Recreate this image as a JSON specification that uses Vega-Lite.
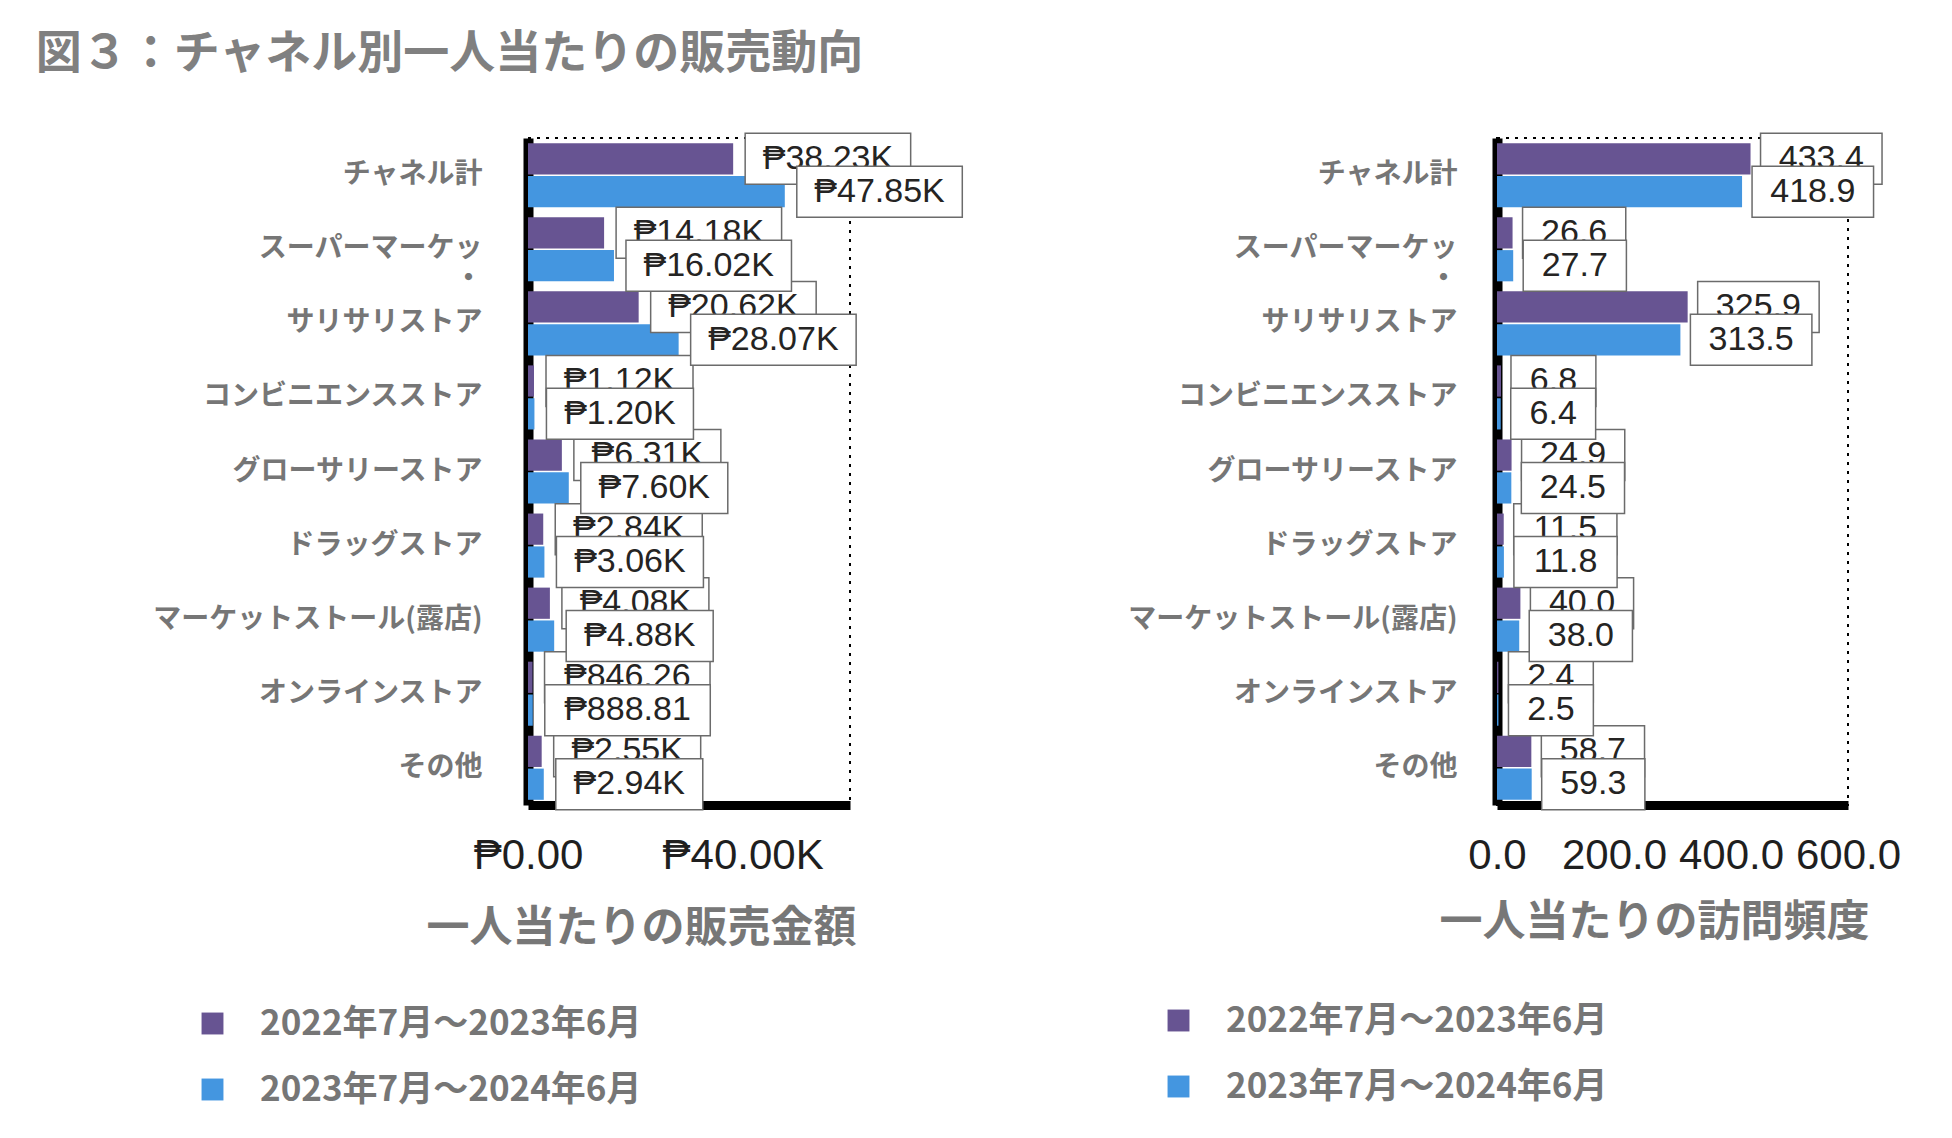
{
  "$schema": "https://vega.github.io/schema/vega-lite/v6.json",
  "background": "white",
  "padding": {"left": 35, "top": 30, "right": 0, "bottom": 0},
  "title": {
    "text": "図３：チャネル別一人当たりの販売動向",
    "anchor": "start",
    "frame": "bounds",
    "dx": -116,
    "offset": 54,
    "font": "Noto Sans CJK JP",
    "fontWeight": "bold",
    "fontSize": 46,
    "color": "#808080"
  },
  "datasets": {
    "sales": [
      {"ch": "チャネル計", "s": "2022年7月～2023年6月", "v": 38230},
      {"ch": "チャネル計", "s": "2023年7月～2024年6月", "v": 47850},
      {"ch": "スーパーマーケット", "s": "2022年7月～2023年6月", "v": 14180},
      {"ch": "スーパーマーケット", "s": "2023年7月～2024年6月", "v": 16020},
      {"ch": "サリサリストア", "s": "2022年7月～2023年6月", "v": 20620},
      {"ch": "サリサリストア", "s": "2023年7月～2024年6月", "v": 28070},
      {"ch": "コンビニエンスストア", "s": "2022年7月～2023年6月", "v": 1120},
      {"ch": "コンビニエンスストア", "s": "2023年7月～2024年6月", "v": 1200},
      {"ch": "グローサリーストア", "s": "2022年7月～2023年6月", "v": 6310},
      {"ch": "グローサリーストア", "s": "2023年7月～2024年6月", "v": 7600},
      {"ch": "ドラッグストア", "s": "2022年7月～2023年6月", "v": 2840},
      {"ch": "ドラッグストア", "s": "2023年7月～2024年6月", "v": 3060},
      {"ch": "マーケットストール(露店)", "s": "2022年7月～2023年6月", "v": 4080},
      {"ch": "マーケットストール(露店)", "s": "2023年7月～2024年6月", "v": 4880},
      {"ch": "オンラインストア", "s": "2022年7月～2023年6月", "v": 846.26},
      {"ch": "オンラインストア", "s": "2023年7月～2024年6月", "v": 888.81},
      {"ch": "その他", "s": "2022年7月～2023年6月", "v": 2550},
      {"ch": "その他", "s": "2023年7月～2024年6月", "v": 2940}
    ],
    "visits": [
      {"ch": "チャネル計", "s": "2022年7月～2023年6月", "v": 433.4},
      {"ch": "チャネル計", "s": "2023年7月～2024年6月", "v": 418.9},
      {"ch": "スーパーマーケット", "s": "2022年7月～2023年6月", "v": 26.6},
      {"ch": "スーパーマーケット", "s": "2023年7月～2024年6月", "v": 27.7},
      {"ch": "サリサリストア", "s": "2022年7月～2023年6月", "v": 325.9},
      {"ch": "サリサリストア", "s": "2023年7月～2024年6月", "v": 313.5},
      {"ch": "コンビニエンスストア", "s": "2022年7月～2023年6月", "v": 6.8},
      {"ch": "コンビニエンスストア", "s": "2023年7月～2024年6月", "v": 6.4},
      {"ch": "グローサリーストア", "s": "2022年7月～2023年6月", "v": 24.9},
      {"ch": "グローサリーストア", "s": "2023年7月～2024年6月", "v": 24.5},
      {"ch": "ドラッグストア", "s": "2022年7月～2023年6月", "v": 11.5},
      {"ch": "ドラッグストア", "s": "2023年7月～2024年6月", "v": 11.8},
      {"ch": "マーケットストール(露店)", "s": "2022年7月～2023年6月", "v": 40.0},
      {"ch": "マーケットストール(露店)", "s": "2023年7月～2024年6月", "v": 38.0},
      {"ch": "オンラインストア", "s": "2022年7月～2023年6月", "v": 2.4},
      {"ch": "オンラインストア", "s": "2023年7月～2024年6月", "v": 2.5},
      {"ch": "その他", "s": "2022年7月～2023年6月", "v": 58.7},
      {"ch": "その他", "s": "2023年7月～2024年6月", "v": 59.3}
    ]
  },
  "hconcat": [
    {
      "width": 322,
      "height": 667,
      "data": {"name": "sales"},
      "transform": [
        {"calculate": "datum.v >= 1000 ? '₱' + format(datum.v / 1000, '.2f') + 'K' : '₱' + format(datum.v, '.2f')", "as": "label"}
      ],
      "encoding": {
        "y": {
          "field": "ch",
          "type": "nominal",
          "sort": ["チャネル計", "スーパーマーケット", "サリサリストア", "コンビニエンスストア", "グローサリーストア", "ドラッグストア", "マーケットストール(露店)", "オンラインストア", "その他"],
          "scale": {"paddingInner": 0.135, "paddingOuter": 0.07},
          "axis": {
            "labelPadding": 46,
            "labelExpr": "datum.value == 'スーパーマーケット' ? ['スーパーマーケッ\u2002', '・\u2002'] : datum.value == 'チャネル計' ? 'チャネル計\u2002' : datum.value"
          }
        },
        "yOffset": {
          "field": "s",
          "type": "nominal",
          "sort": ["2022年7月～2023年6月", "2023年7月～2024年6月"],
          "scale": {"paddingInner": 0.05}
        }
      },
      "layer": [
        {
          "mark": {"type": "bar"},
          "encoding": {
            "x": {
              "field": "v",
              "type": "quantitative",
              "scale": {"domain": [0, 60000], "nice": false},
              "axis": {
                "values": [0, 40000],
                "labelExpr": "datum.value == 0 ? '₱0.00' : '₱' + format(datum.value / 1000, '.2f') + 'K'",
                "title": "一人当たりの販売金額",
                "titleX": 113,
                "titleY": 123
              }
            },
            "color": {
              "field": "s",
              "type": "nominal",
              "scale": {"domain": ["2022年7月～2023年6月", "2023年7月～2024年6月"], "range": ["#675492", "#4496e0"]},
              "legend": {"legendX": -333, "legendY": 868}
            }
          }
        },
        {
          "transform": [{"filter": "datum.s == '2022年7月～2023年6月'"}],
          "mark": {"type": "bar", "height": 51, "fill": "white", "stroke": "#6b6b6b", "strokeWidth": 1.5, "xOffset": 12, "x2Offset": {"expr": "48 + 18.5 * length(datum.label)"}},
          "encoding": {"x": {"field": "v", "type": "quantitative"}, "x2": {"field": "v"}}
        },
        {
          "transform": [{"filter": "datum.s == '2022年7月～2023年6月'"}],
          "mark": {"type": "text", "align": "center", "baseline": "middle", "font": "Liberation Sans", "fontSize": 34, "fill": "#252423", "xOffset": {"expr": "30 + 9.25 * length(datum.label)"}},
          "encoding": {"x": {"field": "v", "type": "quantitative"}, "text": {"field": "label"}}
        },
        {
          "transform": [{"filter": "datum.s == '2023年7月～2024年6月'"}],
          "mark": {"type": "bar", "height": 51, "fill": "white", "stroke": "#6b6b6b", "strokeWidth": 1.5, "xOffset": 12, "x2Offset": {"expr": "48 + 18.5 * length(datum.label)"}},
          "encoding": {"x": {"field": "v", "type": "quantitative"}, "x2": {"field": "v"}}
        },
        {
          "transform": [{"filter": "datum.s == '2023年7月～2024年6月'"}],
          "mark": {"type": "text", "align": "center", "baseline": "middle", "font": "Liberation Sans", "fontSize": 34, "fill": "#252423", "xOffset": {"expr": "30 + 9.25 * length(datum.label)"}},
          "encoding": {"x": {"field": "v", "type": "quantitative"}, "text": {"field": "label"}}
        }
      ]
    },
    {
      "width": 351,
      "height": 667,
      "data": {"name": "visits"},
      "transform": [
        {"calculate": "format(datum.v, '.1f')", "as": "label"}
      ],
      "encoding": {
        "y": {
          "field": "ch",
          "type": "nominal",
          "sort": ["チャネル計", "スーパーマーケット", "サリサリストア", "コンビニエンスストア", "グローサリーストア", "ドラッグストア", "マーケットストール(露店)", "オンラインストア", "その他"],
          "scale": {"paddingInner": 0.135, "paddingOuter": 0.07},
          "axis": {
            "labelPadding": 40,
            "labelExpr": "datum.value == 'スーパーマーケット' ? ['スーパーマーケッ\u2002', '・\u2002'] : datum.value == 'チャネル計' ? 'チャネル計\u2002' : datum.value"
          }
        },
        "yOffset": {
          "field": "s",
          "type": "nominal",
          "sort": ["2022年7月～2023年6月", "2023年7月～2024年6月"],
          "scale": {"paddingInner": 0.05}
        }
      },
      "layer": [
        {
          "mark": {"type": "bar"},
          "encoding": {
            "x": {
              "field": "v",
              "type": "quantitative",
              "scale": {"domain": [0, 600], "nice": false},
              "axis": {
                "values": [0, 200, 400, 600],
                "format": ".1f",
                "title": "一人当たりの訪問頻度",
                "titleX": 157,
                "titleY": 117
              }
            },
            "color": {
              "field": "s",
              "type": "nominal",
              "scale": {"domain": ["2022年7月～2023年6月", "2023年7月～2024年6月"], "range": ["#675492", "#4496e0"]},
              "legend": {"legendX": -336, "legendY": 865}
            }
          }
        },
        {
          "transform": [{"filter": "datum.s == '2022年7月～2023年6月'"}],
          "mark": {"type": "bar", "height": 51, "fill": "white", "stroke": "#6b6b6b", "strokeWidth": 1.5, "xOffset": 10, "x2Offset": {"expr": "40 + 18.3 * length(datum.label)"}},
          "encoding": {"x": {"field": "v", "type": "quantitative"}, "x2": {"field": "v"}}
        },
        {
          "transform": [{"filter": "datum.s == '2022年7月～2023年6月'"}],
          "mark": {"type": "text", "align": "center", "baseline": "middle", "font": "Liberation Sans", "fontSize": 34, "fill": "#252423", "xOffset": {"expr": "25 + 9.15 * length(datum.label)"}},
          "encoding": {"x": {"field": "v", "type": "quantitative"}, "text": {"field": "label"}}
        },
        {
          "transform": [{"filter": "datum.s == '2023年7月～2024年6月'"}],
          "mark": {"type": "bar", "height": 51, "fill": "white", "stroke": "#6b6b6b", "strokeWidth": 1.5, "xOffset": 10, "x2Offset": {"expr": "40 + 18.3 * length(datum.label)"}},
          "encoding": {"x": {"field": "v", "type": "quantitative"}, "x2": {"field": "v"}}
        },
        {
          "transform": [{"filter": "datum.s == '2023年7月～2024年6月'"}],
          "mark": {"type": "text", "align": "center", "baseline": "middle", "font": "Liberation Sans", "fontSize": 34, "fill": "#252423", "xOffset": {"expr": "25 + 9.15 * length(datum.label)"}},
          "encoding": {"x": {"field": "v", "type": "quantitative"}, "text": {"field": "label"}}
        }
      ]
    }
  ],
  "spacing": 161,
  "resolve": {"scale": {"color": "independent"}, "legend": {"color": "independent"}},
  "config": {
    "view": {"stroke": "black", "strokeDash": [3, 6], "strokeWidth": 2},
    "axisY": {
      "title": null,
      "ticks": false,
      "grid": false,
      "domainColor": "black",
      "domainWidth": 10,
      "zindex": 1,
      "labelFont": "Noto Sans CJK JP",
      "labelFontWeight": "bold",
      "labelFontSize": 28,
      "labelColor": "#767676",
      "labelLineHeight": 31,
      "labelLimit": 400
    },
    "axisX": {
      "ticks": false,
      "grid": false,
      "domainColor": "black",
      "domainWidth": 9,
      "labelFont": "Liberation Sans",
      "labelFontSize": 42,
      "labelColor": "#1f1f1f",
      "labelPadding": 30,
      "labelFlush": false,
      "labelOverlap": false,
      "titleFont": "Noto Sans CJK JP",
      "titleFontWeight": "bold",
      "titleFontSize": 43,
      "titleColor": "#777777",
      "titleBaseline": "middle"
    },
    "legend": {
      "orient": "none",
      "title": null,
      "padding": 0,
      "symbolType": "square",
      "symbolSize": 480,
      "symbolStrokeWidth": 0,
      "labelFont": "Noto Sans CJK JP",
      "labelFontWeight": "bold",
      "labelFontSize": 35,
      "labelColor": "#767676",
      "labelOffset": 30,
      "rowPadding": 30,
      "labelLimit": 500
    }
  }
}
